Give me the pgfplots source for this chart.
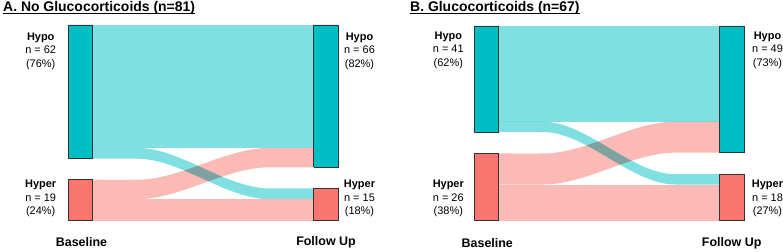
\documentclass[border=0pt]{standalone}
\usepackage{pgfplots}
\pgfplotsset{compat=1.18}
\usepgfplotslibrary{fillbetween}
\usepackage{fontspec}
\setmainfont{Liberation Sans}
\definecolor{hypo}{HTML}{00BFC4}
\definecolor{hyper}{HTML}{F8766D}
\definecolor{bord}{HTML}{333333}
\pgfplotsset{
  sankey/.style={scale only axis, hide axis, clip=false, xmin=0.6, xmax=2.4, ymin=0, anchor=south west},
  bar/.style={draw=bord, line width=0.8bp},
  band/.style={draw=none, fill opacity=0.5},
}
\begin{document}
\begin{tikzpicture}
% ---------------- Panel A ----------------
\begin{axis}[sankey, at={(-17.62bp,-220.7bp)}, width=441.54bp, height=195.7bp, ymax=90.75]
% Hyper -> Hypo (9)
\addplot[name path=AHHu, draw=none, smooth] coordinates {(1.05,19) (1.23,19) (1.275,19.291) (1.32,20.093) (1.365,21.305) (1.41,22.825) (1.455,24.549) (1.5,26.375) (1.545,28.201) (1.59,29.925) (1.635,31.445) (1.68,32.657) (1.725,33.459) (1.77,33.75) (1.95,33.75)};
\addplot[name path=AHHl, draw=none, smooth] coordinates {(1.05,10) (1.23,10) (1.275,10.291) (1.32,11.093) (1.365,12.305) (1.41,13.825) (1.455,15.549) (1.5,17.375) (1.545,19.201) (1.59,20.925) (1.635,22.445) (1.68,23.657) (1.725,24.459) (1.77,24.75) (1.95,24.75)};
\addplot[band, fill=hyper] fill between[of=AHHu and AHHl];
% Hypo -> Hyper (5)
\addplot[name path=AOHu, draw=none, smooth] coordinates {(1.05,33.75) (1.23,33.75) (1.275,33.381) (1.32,32.361) (1.365,30.819) (1.41,28.888) (1.455,26.696) (1.5,24.375) (1.545,22.054) (1.59,19.862) (1.635,17.931) (1.68,16.389) (1.725,15.369) (1.77,15) (1.95,15)};
\addplot[name path=AOHl, draw=none, smooth] coordinates {(1.05,28.75) (1.23,28.75) (1.275,28.381) (1.32,27.361) (1.365,25.819) (1.41,23.888) (1.455,21.696) (1.5,19.375) (1.545,17.054) (1.59,14.862) (1.635,12.931) (1.68,11.389) (1.725,10.369) (1.77,10) (1.95,10)};
\addplot[band, fill=hypo, blend mode=multiply] fill between[of=AOHu and AOHl];
% straight flows
\addplot[band, fill=hypo] coordinates {(1.05,33.75) (1.95,33.75) (1.95,90.75) (1.05,90.75)};
\addplot[band, fill=hyper] coordinates {(1.05,0) (1.95,0) (1.95,10) (1.05,10)};
% strata
\addplot[bar, fill=hypo] coordinates {(0.95,28.75) (1.05,28.75) (1.05,90.75) (0.95,90.75) (0.95,28.75)};
\addplot[bar, fill=hyper] coordinates {(0.95,0) (1.05,0) (1.05,19) (0.95,19) (0.95,0)};
\addplot[bar, fill=hypo] coordinates {(1.95,24.75) (2.05,24.75) (2.05,90.75) (1.95,90.75) (1.95,24.75)};
\addplot[bar, fill=hyper] coordinates {(1.95,0) (2.05,0) (2.05,15) (1.95,15) (1.95,0)};
\end{axis}
% ---------------- Panel B ----------------
\begin{axis}[sankey, at={(388.17bp,-220.7bp)}, width=441.81bp, height=194.7bp, ymax=75.3]
\addplot[name path=BHHu, draw=none, smooth] coordinates {(1.05,26) (1.23,26) (1.275,26.242) (1.32,26.911) (1.365,27.923) (1.41,29.189) (1.455,30.627) (1.5,32.15) (1.545,33.673) (1.59,35.111) (1.635,36.378) (1.68,37.389) (1.725,38.058) (1.77,38.3) (1.95,38.3)};
\addplot[name path=BHHl, draw=none, smooth] coordinates {(1.05,14) (1.23,14) (1.275,14.242) (1.32,14.911) (1.365,15.923) (1.41,17.189) (1.455,18.627) (1.5,20.15) (1.545,21.673) (1.59,23.111) (1.635,24.378) (1.68,25.389) (1.725,26.058) (1.77,26.3) (1.95,26.3)};
\addplot[band, fill=hyper] fill between[of=BHHu and BHHl];
\addplot[name path=BOHu, draw=none, smooth] coordinates {(1.05,38.3) (1.23,38.3) (1.275,37.900) (1.32,36.796) (1.365,35.127) (1.41,33.036) (1.455,30.663) (1.5,28.15) (1.545,25.637) (1.59,23.264) (1.635,21.173) (1.68,19.504) (1.725,18.400) (1.77,18) (1.95,18)};
\addplot[name path=BOHl, draw=none, smooth] coordinates {(1.05,34.3) (1.23,34.3) (1.275,33.900) (1.32,32.796) (1.365,31.127) (1.41,29.036) (1.455,26.663) (1.5,24.15) (1.545,21.637) (1.59,19.264) (1.635,17.173) (1.68,15.504) (1.725,14.400) (1.77,14) (1.95,14)};
\addplot[band, fill=hypo, blend mode=multiply] fill between[of=BOHu and BOHl];
\addplot[band, fill=hypo] coordinates {(1.05,38.3) (1.95,38.3) (1.95,75.3) (1.05,75.3)};
\addplot[band, fill=hyper] coordinates {(1.05,0) (1.95,0) (1.95,14) (1.05,14)};
\addplot[bar, fill=hypo] coordinates {(0.95,34.3) (1.05,34.3) (1.05,75.3) (0.95,75.3) (0.95,34.3)};
\addplot[bar, fill=hyper] coordinates {(0.95,0) (1.05,0) (1.05,26) (0.95,26) (0.95,0)};
\addplot[bar, fill=hypo] coordinates {(1.95,26.3) (2.05,26.3) (2.05,75.3) (1.95,75.3) (1.95,26.3)};
\addplot[bar, fill=hyper] coordinates {(1.95,0) (2.05,0) (2.05,18) (1.95,18) (1.95,0)};
\end{axis}
% ---------------- Titles ----------------
\node[anchor=base west, inner sep=0, font=\fontsize{14}{16}\selectfont\bfseries] (tA) at (3bp,-11.5bp) {A. No Glucocorticoids (n=81)};
\draw[line width=1bp] ([yshift=-2.2bp]tA.base west) -- ([yshift=-2.2bp]tA.base east);
\node[anchor=base west, inner sep=0, font=\fontsize{14}{16}\selectfont\bfseries] (tB) at (410bp,-11.5bp) {B. Glucocorticoids (n=67)};
\draw[line width=1bp] ([yshift=-2.2bp]tB.base west) -- ([yshift=-2.2bp]tB.base east);
% ---------------- Stratum labels ----------------
\tikzset{lab/.style={align=center, inner sep=0, font=\fontsize{11}{13.5}\selectfont}}
\node[lab] at (40.7bp,-51.3bp) {\textbf{Hypo}\\n = 62\\(76\%)};
\node[lab] at (40.7bp,-198.5bp) {\textbf{Hyper}\\n = 19\\(24\%)};
\node[lab] at (359.5bp,-51.3bp) {\textbf{Hypo}\\n = 66\\(82\%)};
\node[lab] at (359.5bp,-198.5bp) {\textbf{Hyper}\\n = 15\\(18\%)};
\node[lab] at (448.3bp,-50bp) {\textbf{Hypo}\\n = 41\\(62\%)};
\node[lab] at (448.3bp,-198.5bp) {\textbf{Hyper}\\n = 26\\(38\%)};
\node[lab] at (767.5bp,-50bp) {\textbf{Hypo}\\n = 49\\(73\%)};
\node[lab] at (767.5bp,-198.5bp) {\textbf{Hyper}\\n = 18\\(27\%)};
% ---------------- Stage labels ----------------
\tikzset{stage/.style={inner sep=0, font=\fontsize{12.5}{14}\selectfont\bfseries}}
\node[stage] at (81.5bp,-242bp) {Baseline};
\node[stage] at (326bp,-242bp) {Follow Up};
\node[stage] at (487.3bp,-243bp) {Baseline};
\node[stage] at (731.7bp,-243bp) {Follow Up};
\pgfresetboundingbox
\path[use as bounding box] (0,0) rectangle (783bp,-252bp);
\end{tikzpicture}
\end{document}
